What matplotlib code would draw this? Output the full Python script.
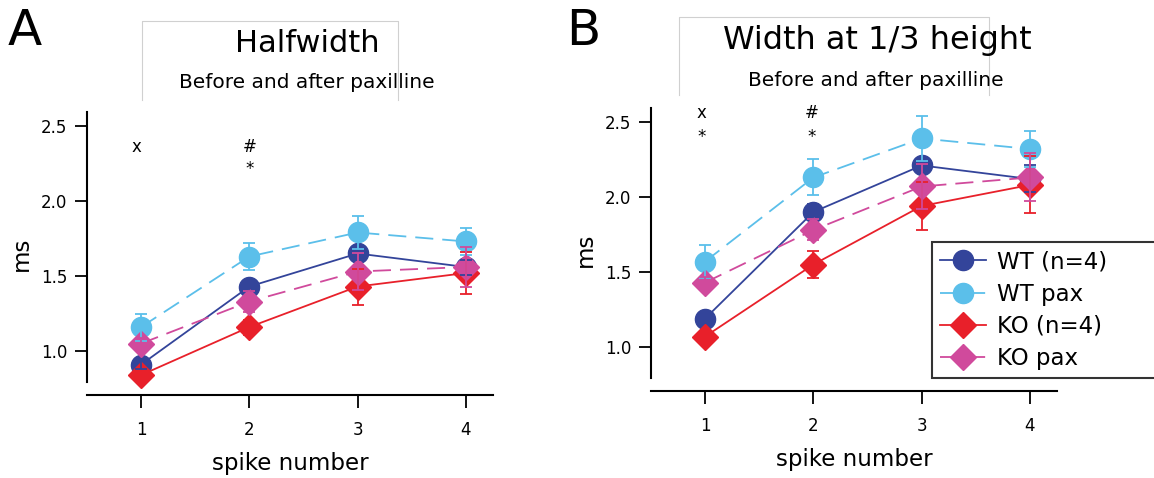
import matplotlib
matplotlib.use('Agg')
import matplotlib.pyplot as plt
from matplotlib.lines import Line2D

spikes = [1, 2, 3, 4]
labels = ['WT (n=4)', 'WT pax', 'KO (n=4)', 'KO pax']

# panel A: halfwidth (ms)
half_wt = [0.91, 1.43, 1.65, 1.56]
half_wt_pax = [1.16, 1.63, 1.79, 1.73]
half_ko = [0.84, 1.16, 1.43, 1.52]
half_ko_pax = [1.05, 1.33, 1.53, 1.56]
half_wt_err = [0.03, 0.03, 0.04, 0.05]
half_wt_pax_err = [0.09, 0.09, 0.11, 0.09]
half_ko_err = [0.03, 0.05, 0.12, 0.14]
half_ko_pax_err = [0.04, 0.07, 0.12, 0.13]

# panel B: width at 1/3 height (ms)
third_wt = [1.19, 1.90, 2.21, 2.12]
third_wt_pax = [1.57, 2.13, 2.39, 2.32]
third_ko = [1.07, 1.55, 1.94, 2.08]
third_ko_pax = [1.43, 1.78, 2.07, 2.13]
third_wt_err = [0.03, 0.05, 0.04, 0.09]
third_wt_pax_err = [0.11, 0.12, 0.15, 0.12]
third_ko_err = [0.03, 0.09, 0.16, 0.19]
third_ko_pax_err = [0.04, 0.07, 0.15, 0.16]

marks_a = [('x', 0.96, 2.36), ('#', 2.0, 2.36), ('*', 2.0, 2.21)]
marks_b = [('x', 0.97, 2.56), ('*', 0.97, 2.40), ('#', 1.98, 2.56), ('*', 1.98, 2.40)]

colors = ['#33449a', '#5bbfea', '#e8202a', '#d04a9c']
markers = ['o', 'o', 'D', 'D']
msizes = [14.5, 14.5, 13, 13]
styles = ['-', (0, (10, 5)), '-', (0, (10, 5))]

W, H = 1154, 478
fig = plt.figure(figsize=(W / 100, H / 100), dpi=100)


def panel(left_px, top_px, bottom_px, series, errs, marks):
    ax = fig.add_axes([left_px / W, 1 - bottom_px / H, 406 / W, (bottom_px - top_px) / H])
    handles = []
    for i in range(4):
        h, = ax.plot(spikes, series[i], linestyle=styles[i], color=colors[i], lw=1.3,
                     marker=markers[i], ms=msizes[i], mfc=colors[i], mec=colors[i],
                     zorder=3 + i * 0.1, label=labels[i])
        handles.append(h)
        ax.errorbar(spikes, series[i], yerr=errs[i], fmt='none', ecolor=colors[i],
                    elinewidth=1.3, capsize=4.5, capthick=1.3, zorder=4)
    ax.set_xlim(0.5, 4.25)
    ax.set_ylim(0.707, 2.593)
    ax.set_xticks(spikes)
    ax.set_yticks([1.0, 1.5, 2.0, 2.5])
    ax.set_yticklabels(['1.0', '1.5', '2.0', '2.5'])
    for s in ['top', 'right']:
        ax.spines[s].set_visible(False)
    ax.spines['left'].set_bounds(0.793, 2.593)
    ax.spines['left'].set_linewidth(1.5)
    ax.spines['bottom'].set_linewidth(1.5)
    ax.tick_params(axis='both', direction='out', length=9, width=1.3, labelsize=12)
    ax.tick_params(axis='y', pad=5)
    ax.tick_params(axis='x', pad=10)
    ax.set_xlabel('spike number', fontsize=16.5, labelpad=9)
    ax.set_ylabel('ms', fontsize=16.5, labelpad=6)
    for t, x, y in marks:
        ax.text(x, y, t, fontsize=12, ha='center', va='center')
    return ax, handles


ax_a, _ = panel(87, 112, 395,
                [half_wt, half_wt_pax, half_ko, half_ko_pax],
                [half_wt_err, half_wt_pax_err, half_ko_err, half_ko_pax_err], marks_a)
ax_b, handles = panel(651, 108, 391,
                      [third_wt, third_wt_pax, third_ko, third_ko_pax],
                      [third_wt_err, third_wt_pax_err, third_ko_err, third_ko_pax_err], marks_b)

# legend box runs past the right edge of the figure, as in the original
leg = fig.legend(handles=handles, loc='lower left', mode='expand',
                 bbox_to_anchor=(932 / W, 1 - 378 / H, 300 / W, 135 / H),
                 fontsize=16.5, frameon=True, fancybox=False, handlelength=2.0,
                 labelspacing=0.4, borderpad=0.35, handletextpad=0.5, borderaxespad=0)
leg.get_frame().set_edgecolor('black')
leg.get_frame().set_linewidth(1.5)

# panel letters and titles
fig.text(8 / W, 1 - 31 / H, 'A', fontsize=36, va='center', ha='left')
fig.text(566 / W, 1 - 31 / H, 'B', fontsize=36, va='center', ha='left')
fig.text(307 / W, 1 - 43 / H, 'Halfwidth', fontsize=22, ha='center', va='center')
fig.text(307 / W, 1 - 83 / H, 'Before and after paxilline', fontsize=14.5, ha='center', va='center')
fig.text(877 / W, 1 - 40 / H, 'Width at 1/3 height', fontsize=23, ha='center', va='center')
fig.text(876 / W, 1 - 80 / H, 'Before and after paxilline', fontsize=14.5, ha='center', va='center')

# faint boxes around the titles
for l, r, t, b in [(142, 398, 21, 100), (679, 989, 17, 95)]:
    xs = [l / W, l / W, r / W, r / W]
    ys = [1 - b / H, 1 - t / H, 1 - t / H, 1 - b / H]
    fig.add_artist(Line2D(xs, ys, color='#d0d0d0', lw=0.8))

fig.savefig('out.png', dpi=100)
